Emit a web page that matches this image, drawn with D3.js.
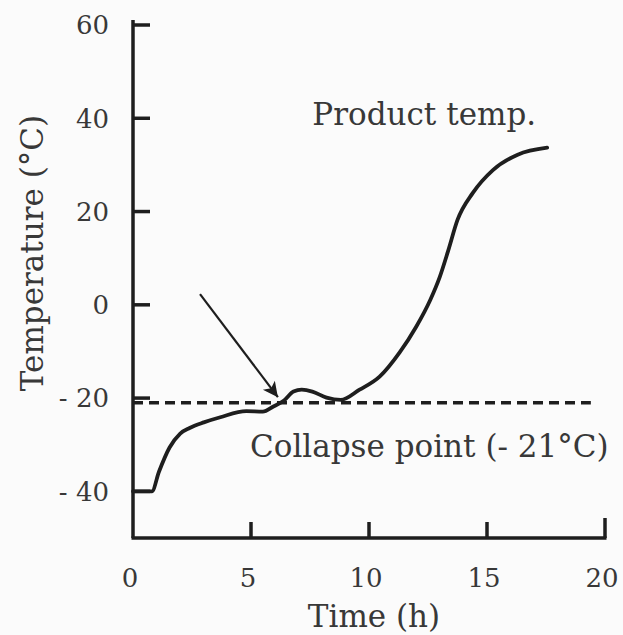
<!DOCTYPE html>
<html>
<head>
    <meta charset="UTF-8">
    <script src="https://d3js.org/d3.v7.min.js"></script>
    <style>
        body { margin: 0; background: #fbfbfb; }
        svg { display: block; }
        text { font-family: "DejaVu Serif", serif; fill: #383838; }
    </style>
</head>
<body>
    <svg></svg>
    <script>
        let width = 623, height = 635;

        // product temperature
        let time = [0, 0.8, 1.1, 1.55, 2.0, 2.4, 3.0, 3.7, 4.8, 5.5, 5.95, 6.4, 6.8, 7.15, 7.6, 8.2, 8.8, 9.6, 10.45, 11.3, 12.0, 12.6, 13.0, 13.35, 13.75, 14.4, 15.25, 16.3, 17.55];
        let temp = [-40, -40, -35.8, -30.6, -27.6, -26.4, -25.2, -24.1, -22.8, -22.9, -21.8, -20.5, -18.6, -18.2, -18.6, -19.9, -20.4, -18.2, -15.4, -10.2, -4.7, 1.1, 6, 11.5, 18.2, 24, 28.9, 32.2, 33.7];

        let collapseTemp = -21;
        let collapseEnd = 19.4;

        let xTicks = [0, 5, 10, 15, 20];
        let xTickLabels = ["0", "5", "10", "15", "20"];
        let yTicks = [60, 40, 20, 0, -20, -40];
        let yTickLabels = ["60", "40", "20", "0", "- 20", "- 40"];

        let svg = d3.select("svg")
            .attr("width", width)
            .attr("height", height);

        let x = d3.scaleLinear().domain([0, 20]).range([133, 605]);
        let y = d3.scaleLinear().domain([-50, 60]).range([538, 25]);

        let ink = "#1e1e1e";

        svg.append("defs").append("marker")
            .attr("id", "head")
            .attr("viewBox", "0 0 10 10")
            .attr("refX", 10).attr("refY", 5)
            .attr("markerWidth", 20).attr("markerHeight", 15)
            .attr("markerUnits", "userSpaceOnUse")
            .attr("orient", "auto")
            .append("path")
            .attr("d", "M0,0 L10,5 L0,10 L2.5,5 Z")
            .attr("fill", ink);

        // axes
        svg.append("line")
            .attr("x1", x(0)).attr("x2", x(0))
            .attr("y1", y(-50)).attr("y2", 20)
            .attr("stroke", ink).attr("stroke-width", 3.5);
        svg.append("line")
            .attr("x1", x(0) - 1.5).attr("x2", x(20) + 1.5)
            .attr("y1", y(-50)).attr("y2", y(-50))
            .attr("stroke", ink).attr("stroke-width", 3.5);

        svg.append("g").selectAll("line")
            .data(yTicks)
            .enter().append("line")
            .attr("x1", x(0)).attr("x2", x(0) + 17)
            .attr("y1", d => y(d)).attr("y2", d => y(d))
            .attr("stroke", ink).attr("stroke-width", 3.5);

        svg.append("g").selectAll("line")
            .data(xTicks.slice(1))
            .enter().append("line")
            .attr("x1", d => x(d)).attr("x2", d => x(d))
            .attr("y1", y(-50)).attr("y2", d => y(-50) - (d == 20 ? 20 : 16))
            .attr("stroke", ink).attr("stroke-width", 3.5);

        svg.append("g").selectAll("text")
            .data(yTicks)
            .enter().append("text")
            .attr("x", 109)
            .attr("y", d => y(d))
            .attr("dy", "0.36em")
            .attr("text-anchor", "end")
            .style("font-size", "26px")
            .text((d, i) => yTickLabels[i]);

        svg.append("g").selectAll("text")
            .data(xTicks)
            .enter().append("text")
            .attr("x", d => x(d) - 3)
            .attr("y", 587)
            .attr("text-anchor", "middle")
            .style("font-size", "26px")
            .text((d, i) => xTickLabels[i]);

        // axis titles
        svg.append("text")
            .attr("transform", "translate(43,253) rotate(-90)")
            .attr("text-anchor", "middle")
            .style("font-size", "31px")
            .text("Temperature (°C)");

        svg.append("text")
            .attr("x", 374)
            .attr("y", 627)
            .attr("text-anchor", "middle")
            .style("font-size", "31px")
            .text("Time (h)");

        // collapse point
        svg.append("line")
            .attr("x1", x(0)).attr("x2", x(collapseEnd))
            .attr("y1", y(collapseTemp)).attr("y2", y(collapseTemp))
            .attr("stroke", ink).attr("stroke-width", 3.5)
            .attr("stroke-dasharray", "10,6");

        // product temperature curve
        let line = d3.line()
            .x((d, i) => x(time[i]))
            .y(d => y(d))
            .curve(d3.curveMonotoneX);

        svg.append("path")
            .datum(temp)
            .attr("d", line)
            .attr("fill", "none")
            .attr("stroke", ink)
            .attr("stroke-width", 3.8)
            .attr("stroke-linecap", "round");

        // arrow pointing at the collapse crossing
        svg.append("line")
            .attr("x1", x(2.84)).attr("y1", y(2.3))
            .attr("x2", x(6.14)).attr("y2", y(-19.8))
            .attr("stroke", ink).attr("stroke-width", 2.2)
            .attr("marker-end", "url(#head)");

        svg.append("text")
            .attr("x", x(7.6))
            .attr("y", y(38.6))
            .style("font-size", "31px")
            .text("Product temp.");

        svg.append("text")
            .attr("x", x(4.96))
            .attr("y", y(-32.6))
            .style("font-size", "31px")
            .text("Collapse point (- 21°C)");
    </script>
</body>
</html>
